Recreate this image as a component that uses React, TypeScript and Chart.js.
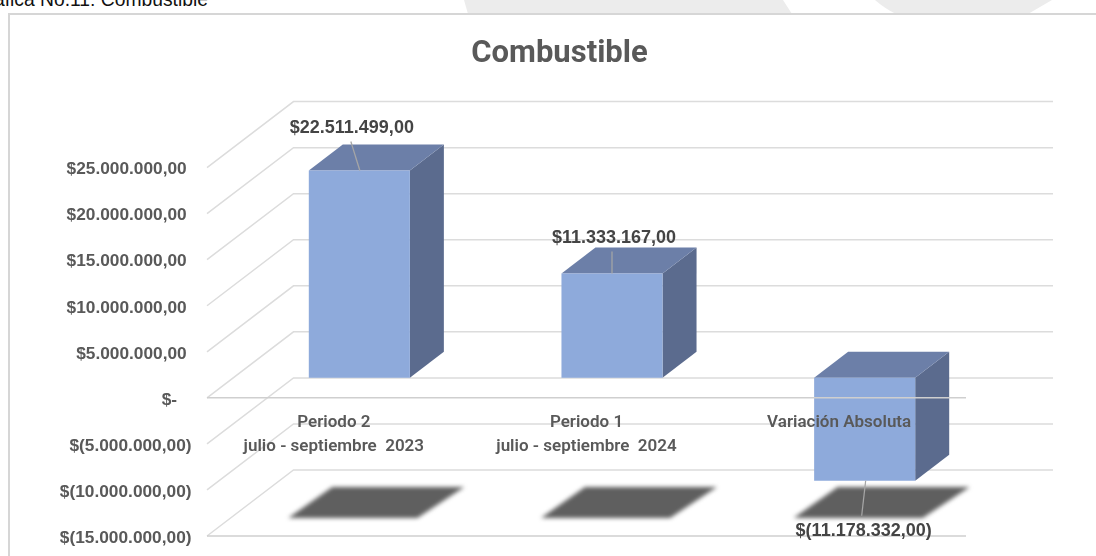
import React, { useEffect, useRef } from "react";
import { Chart, registerables } from "chart.js";

Chart.register(...registerables);

const categories = [
  ["Periodo 2", "julio - septiembre  2023"],
  ["Periodo 1", "julio - septiembre  2024"],
  ["Variación Absoluta"],
];
const barValues = [22511499, 11333167, -11178332];
const barLabels = ["$22.511.499,00", "$11.333.167,00", "$(11.178.332,00)"];
const tickValues = [-15000000, -10000000, -5000000, 0, 5000000, 10000000, 15000000, 20000000, 25000000];
const tickLabels = [
  "$(15.000.000,00)",
  "$(10.000.000,00)",
  "$(5.000.000,00)",
  "$-   ",
  "$5.000.000,00 ",
  "$10.000.000,00 ",
  "$15.000.000,00 ",
  "$20.000.000,00 ",
  "$25.000.000,00 ",
];

const W = 1096;
const H = 556;
const AREA = { top: 102, bottom: 536, left: 233, right: 991 };
const PAD_LEFT = 128;
const PX_PER_UNIT = 46.05 / 5000000;
const RANGE = (AREA.bottom - AREA.top) / PX_PER_UNIT;
const Y_MIN = -15000000;
const BAR_ZERO_LIFT = 20;
const BAR_MIN = Y_MIN - BAR_ZERO_LIFT / PX_PER_UNIT;

const WALL_DX = 86.5;
const WALL_DY = 66;
const WALL_FRONT_X = 207;
const WALL_BACK_RIGHT = 1053;
const FLOOR_FRONT_RIGHT = 966;
const BAR_DX = 34;
const BAR_DY = 26;

const GRID = "#dcdcdc";
const BAR_FRONT = "#8eaadb";
const BAR_TOP = "#6c7fa8";
const BAR_SIDE = "#5b6b8e";
const SHADOW = "#5f5f5f";
const LEADER = "#a6a6a6";
const TEXT = "#595959";
const LABEL_TEXT = "#444444";

const leaders = [
  { dx0: -8.5, dy0: -29, dx1: 0.5, dy1: 0, label: [-7.5, -42] },
  { dx0: 0, dy0: -22, dx1: 0, dy1: 0, label: [2, -35] },
  { dx0: 1, dy0: 0, dx1: -3, dy1: 35, label: [-1, 50] },
];

const scene = {
  id: "scene3d",
  afterLayout(chart: any) {
    chart.chartArea.top = AREA.top;
    chart.chartArea.bottom = AREA.bottom;
    chart.chartArea.height = AREA.bottom - AREA.top;
    [chart.scales.y, chart.scales.y2].forEach((s: any) => {
      s.top = AREA.top;
      s.bottom = AREA.bottom;
      s.height = AREA.bottom - AREA.top;
      s.configure();
    });
    chart.scales.y.left = 40;
  },
  beforeDatasetsDraw(chart: any) {
    const { ctx } = chart;
    const y = chart.scales.y;
    const meta = chart.getDatasetMeta(0);
    ctx.save();
    ctx.strokeStyle = GRID;
    ctx.lineWidth = 1.5;
    tickValues.forEach((v) => {
      const fy = y.getPixelForValue(v);
      ctx.beginPath();
      ctx.moveTo(WALL_FRONT_X, fy);
      ctx.lineTo(WALL_FRONT_X + WALL_DX, fy - WALL_DY);
      ctx.lineTo(WALL_BACK_RIGHT, fy - WALL_DY);
      ctx.stroke();
    });
    ctx.restore();

    meta.data.forEach((bar: any) => {
      ctx.save();
      ctx.fillStyle = SHADOW;
      ctx.filter = "blur(2px)";
      ctx.beginPath();
      ctx.moveTo(bar.x - 71, 518);
      ctx.lineTo(bar.x + 58, 518);
      ctx.lineTo(bar.x + 105, 487);
      ctx.lineTo(bar.x - 27, 487);
      ctx.closePath();
      ctx.fill();
      ctx.restore();
    });

    meta.data.forEach((bar: any) => {
      const l = bar.x - bar.width / 2;
      const r = bar.x + bar.width / 2;
      const t = Math.min(bar.y, bar.base);
      const b = Math.max(bar.y, bar.base);
      ctx.save();
      ctx.fillStyle = BAR_SIDE;
      ctx.beginPath();
      ctx.moveTo(r, t);
      ctx.lineTo(r + BAR_DX, t - BAR_DY);
      ctx.lineTo(r + BAR_DX, b - BAR_DY);
      ctx.lineTo(r, b);
      ctx.closePath();
      ctx.fill();
      ctx.fillStyle = BAR_TOP;
      ctx.beginPath();
      ctx.moveTo(l, t);
      ctx.lineTo(l + BAR_DX, t - BAR_DY);
      ctx.lineTo(r + BAR_DX, t - BAR_DY);
      ctx.lineTo(r, t);
      ctx.closePath();
      ctx.fill();
      ctx.restore();
    });
  },
  afterDatasetsDraw(chart: any) {
    const { ctx } = chart;
    const y = chart.scales.y;
    const meta = chart.getDatasetMeta(0);
    ctx.save();
    ctx.strokeStyle = "#cfcfcf";
    ctx.lineWidth = 1.5;
    [0, Y_MIN].forEach((v) => {
      const fy = y.getPixelForValue(v);
      ctx.beginPath();
      ctx.moveTo(WALL_FRONT_X, fy);
      ctx.lineTo(FLOOR_FRONT_RIGHT, fy);
      ctx.stroke();
    });
    ctx.restore();

    meta.data.forEach((bar: any, i: number) => {
      const a = leaders[i];
      ctx.save();
      ctx.strokeStyle = LEADER;
      ctx.lineWidth = 1.25;
      ctx.beginPath();
      ctx.moveTo(bar.x + a.dx0, bar.y + a.dy0);
      ctx.lineTo(bar.x + a.dx1, bar.y + a.dy1);
      ctx.stroke();
      ctx.fillStyle = LABEL_TEXT;
      ctx.font = "bold 18px 'Liberation Sans'";
      ctx.textAlign = "center";
      ctx.textBaseline = "middle";
      ctx.fillText(barLabels[i], bar.x + a.label[0], bar.y + a.label[1]);
      ctx.restore();
    });
  },
};

export default function App() {
  const ref = useRef<HTMLCanvasElement | null>(null);
  useEffect(() => {
    document.body.style.margin = "0";
    const canvas = ref.current;
    if (!canvas) return;
    const chart = new Chart(canvas, {
      type: "bar",
      data: {
        labels: categories,
        datasets: [
          {
            data: barValues,
            backgroundColor: BAR_FRONT,
            yAxisID: "y2",
            xAxisID: "x",
            barPercentage: 1,
            categoryPercentage: 0.4,
          },
        ],
      },
      plugins: [scene],
      options: {
        responsive: false,
        animation: false,
        layout: {
          padding: { top: 0, left: PAD_LEFT, right: W - AREA.right, bottom: H - AREA.bottom },
        },
        plugins: {
          legend: { display: false },
          tooltip: { enabled: false },
          title: {
            display: true,
            text: "Combustible",
            color: TEXT,
            font: { family: "Roboto", size: 31, weight: "bold", lineHeight: 1.2 },
            padding: { top: 36, bottom: AREA.top - 36 - 37.2 },
          },
        },
        scales: {
          x: {
            position: { y: 0 } as any,
            grid: { display: false },
            border: { display: false },
            afterFit(scale: any) {
              scale.height = 0;
            },
            ticks: {
              z: 1,
              color: TEXT,
              padding: 5,
              labelOffset: -25.5,
              maxRotation: 0,
              autoSkip: false,
              font: { family: "Roboto", size: 17, weight: "600", lineHeight: 1.41 },
            },
          },
          y: {
            position: "left",
            min: Y_MIN,
            max: Y_MIN + RANGE,
            grid: { display: false },
            border: { display: false },
            afterBuildTicks(scale: any) {
              scale.ticks = tickValues.map((value) => ({ value }));
            },
            afterFit(scale: any) {
              scale.width = AREA.left - PAD_LEFT;
            },
            ticks: {
              color: TEXT,
              padding: 33.5,
              labelOffset: 2,
              autoSkip: false,
              font: { family: "Liberation Sans", size: 17.3, weight: "bold" },
              callback: (_v: any, i: number) => tickLabels[i],
            },
          },
          y2: {
            display: false,
            min: BAR_MIN,
            max: BAR_MIN + RANGE,
          },
        },
      },
    } as any);
    return () => chart.destroy();
  }, []);

  return (
    <div style={{ position: "relative", width: W, height: H, overflow: "hidden", background: "#fff" }}>
      <svg width={W} height={14} style={{ position: "absolute", left: 0, top: 0 }}>
        <polygon points="464,0 783,0 792,14 468,14" fill="#ececec" />
        <path d="M875,0 L1052,0 L1028,14 L896,14 Q884,8 875,0 Z" fill="#ececec" />
      </svg>
      <div
        style={{
          position: "absolute",
          left: -27.5,
          top: -11,
          font: "19.3px 'Liberation Sans'",
          color: "#111",
          whiteSpace: "nowrap",
        }}
      >
        Gráfica No.11: Combustible
      </div>
      <div
        style={{
          position: "absolute",
          left: 8,
          top: 13,
          width: W,
          height: H,
          borderLeft: "2px solid #d6d6d6",
          borderTop: "2px solid #d6d6d6",
          boxSizing: "border-box",
        }}
      />
      <canvas ref={ref} width={W} height={H} style={{ position: "absolute", left: 0, top: 0, display: "block" }} />
    </div>
  );
}
